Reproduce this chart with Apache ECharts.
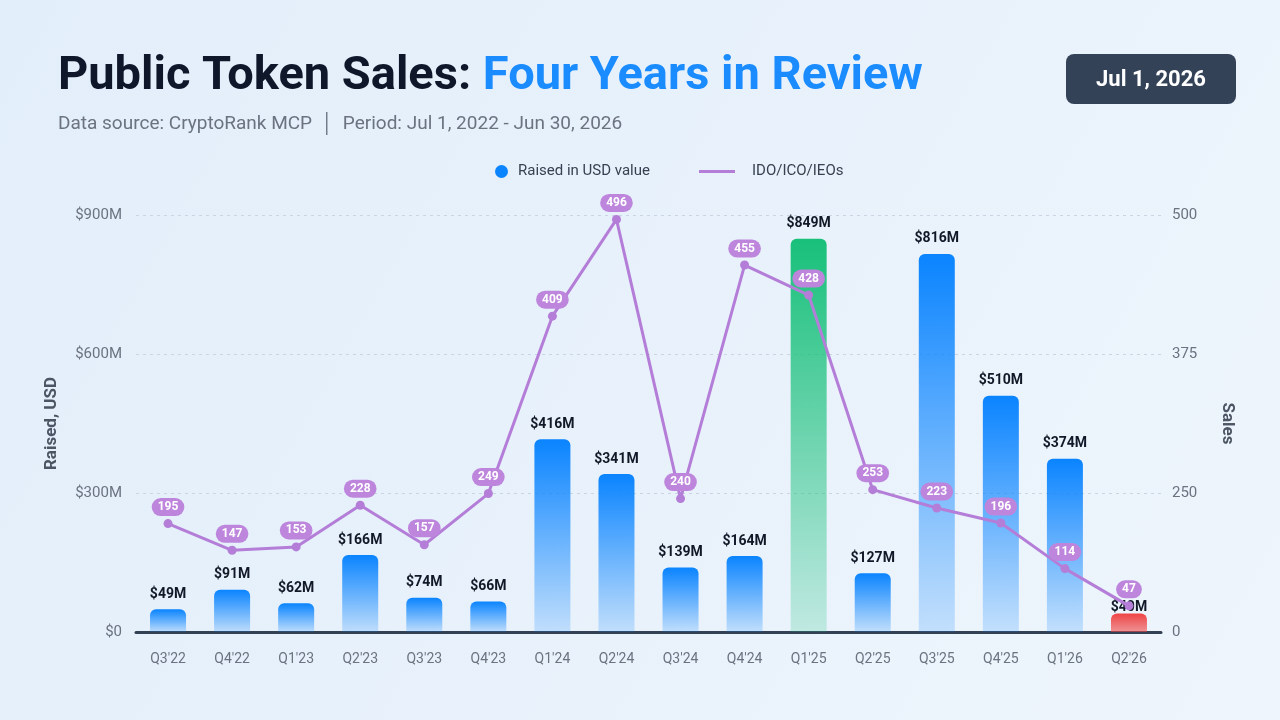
<!DOCTYPE html>
<html>
<head>
<meta charset="utf-8">
<script src="https://cdn.jsdelivr.net/npm/echarts@6/dist/echarts.min.js"></script>
<style>
  html, body { margin: 0; padding: 0; }
  #main { width: 1280px; height: 720px; }
</style>
</head>
<body>
<div id="main"></div>
<script>
var quarters = ["Q3'22", "Q4'22", "Q1'23", "Q2'23", "Q3'23", "Q4'23", "Q1'24", "Q2'24",
  "Q3'24", "Q4'24", "Q1'25", "Q2'25", "Q3'25", "Q4'25", "Q1'26", "Q2'26"];
var raised = [49, 91, 62, 166, 74, 66, 416, 341, 139, 164, 849, 127, 816, 510, 374, 40];
var sales = [195, 147, 153, 228, 157, 249, 409, 496, 240, 455, 428, 253, 223, 196, 114, 47];
var leftTicks = [0, 300, 600, 900];
var rightTicks = [0, 250, 375, 500];

var FONT = 'Roboto, "Noto Sans", sans-serif';

function grad(top, bottom) {
  return new echarts.graphic.LinearGradient(0, 0, 0, 1, [
    { offset: 0, color: top },
    { offset: 1, color: bottom }
  ]);
}

var maxIdx = raised.indexOf(Math.max.apply(null, raised));
var lastIdx = raised.length - 1;

var barData = raised.map(function (v, i) {
  var c = grad('#0a84ff', 'rgba(10,132,255,0.18)');
  if (i === maxIdx) c = grad('#18c07a', 'rgba(24,192,122,0.2)');
  if (i === lastIdx) c = grad('#ef4444', 'rgba(239,68,68,0.55)');
  return { value: v, itemStyle: { color: c } };
});

var chart = echarts.init(document.getElementById('main'));
chart.setOption({
  backgroundColor: new echarts.graphic.LinearGradient(0, 0, 1, 1, [
    { offset: 0, color: '#e2eefa' },
    { offset: 1, color: '#eef5fc' }
  ]),
  textStyle: { fontFamily: FONT },
  title: {
    left: 53,
    top: 49,
    text: '{a|Public Token Sales: }{b|Four Years in Review}',
    textStyle: {
      rich: {
        a: { fontSize: 47, fontWeight: 'bold', color: '#0f172a', fontFamily: FONT },
        b: { fontSize: 47, fontWeight: 'bold', color: '#1a8cff', fontFamily: FONT }
      }
    },
    subtext: 'Data source: CryptoRank MCP  \u2502  Period: Jul 1, 2022 - Jun 30, 2026',
    subtextStyle: { fontSize: 19, color: '#6b7280', fontFamily: FONT },
    itemGap: 14
  },
  graphic: [{
    type: 'group',
    left: 1066,
    top: 54,
    children: [{
      type: 'rect',
      shape: { x: 0, y: 0, width: 170, height: 50, r: 8 },
      style: { fill: '#344258' }
    }, {
      type: 'text',
      x: 85,
      y: 26,
      style: {
        text: 'Jul 1, 2026',
        fill: '#ffffff',
        font: 'bold 22px ' + FONT,
        align: 'center',
        verticalAlign: 'middle'
      }
    }]
  }],
  legend: [{
    data: [{ name: 'Raised in USD value', icon: 'circle' }],
    left: 490,
    top: 159,
    itemWidth: 13,
    itemHeight: 13,
    textStyle: { fontSize: 15, color: '#374151', padding: [0, 0, 0, 5] }
  }, {
    data: [{ name: 'IDO/ICO/IEOs', icon: 'rect' }],
    left: 694,
    top: 159,
    itemWidth: 36,
    itemHeight: 3,
    textStyle: { fontSize: 15, color: '#374151', padding: [0, 0, 0, 12] }
  }],
  grid: { left: 136, right: 119, top: 215, bottom: 88 },
  xAxis: {
    type: 'category',
    data: quarters,
    axisLine: { lineStyle: { color: '#334155', width: 3 } },
    axisTick: { show: false },
    axisLabel: { color: '#6b7280', fontSize: 14, margin: 20 }
  },
  yAxis: [{
    type: 'value',
    min: leftTicks[0],
    max: leftTicks[leftTicks.length - 1],
    interval: 300,
    name: 'Raised, USD',
    nameLocation: 'middle',
    nameGap: 76,
    nameTextStyle: { fontSize: 17, fontWeight: 'bold', color: '#4b5563' },
    axisLine: { show: false },
    axisTick: { show: false },
    axisLabel: {
      color: '#6b7280', fontSize: 15, margin: 14,
      formatter: function (v) { return v === 0 ? '$0' : '$' + v + 'M'; }
    },
    splitLine: { lineStyle: { color: '#c9d5e3', type: [3, 4], width: 1 } }
  }, {
    type: 'value',
    min: rightTicks[0],
    max: rightTicks[rightTicks.length - 1],
    interval: 125,
    breaks: [{ start: rightTicks[0], end: rightTicks[1], gap: 125 }],
    breakArea: { show: false },
    name: 'Sales',
    nameLocation: 'middle',
    nameGap: 58,
    nameRotate: -90,
    nameTextStyle: { fontSize: 17, fontWeight: 'bold', color: '#4b5563' },
    axisLine: { show: false },
    axisTick: { show: false },
    axisLabel: { color: '#6b7280', fontSize: 15, margin: 11 },
    splitLine: { show: false }
  }],
  series: [{
    name: 'Raised in USD value',
    type: 'bar',
    data: barData,
    barWidth: 36,
    itemStyle: { color: '#0a84ff', borderRadius: [6, 6, 0, 0] },
    label: {
      show: true,
      position: 'top',
      distance: 8,
      fontSize: 14,
      fontWeight: 'bold',
      color: '#111827',
      formatter: function (p) { return '$' + p.value + 'M'; }
    },
    labelLayout: function (p) {
      // the last bar's label sits just under the line's final point
      return p.dataIndex === lastIdx ? { dy: 9 } : {};
    }
  }, {
    name: 'IDO/ICO/IEOs',
    type: 'line',
    yAxisIndex: 1,
    data: sales,
    z: 5,
    symbol: 'circle',
    symbolSize: 9,
    color: '#b47ed8',
    lineStyle: { width: 3, color: '#b47ed8' },
    itemStyle: { color: '#b47ed8' },
    label: {
      show: true,
      position: 'top',
      distance: 3,
      fontSize: 12,
      fontWeight: 'bold',
      color: '#ffffff',
      backgroundColor: '#bd86dc',
      borderRadius: 9,
      padding: [3, 6]
    }
  }]
});
</script>
</body>
</html>
